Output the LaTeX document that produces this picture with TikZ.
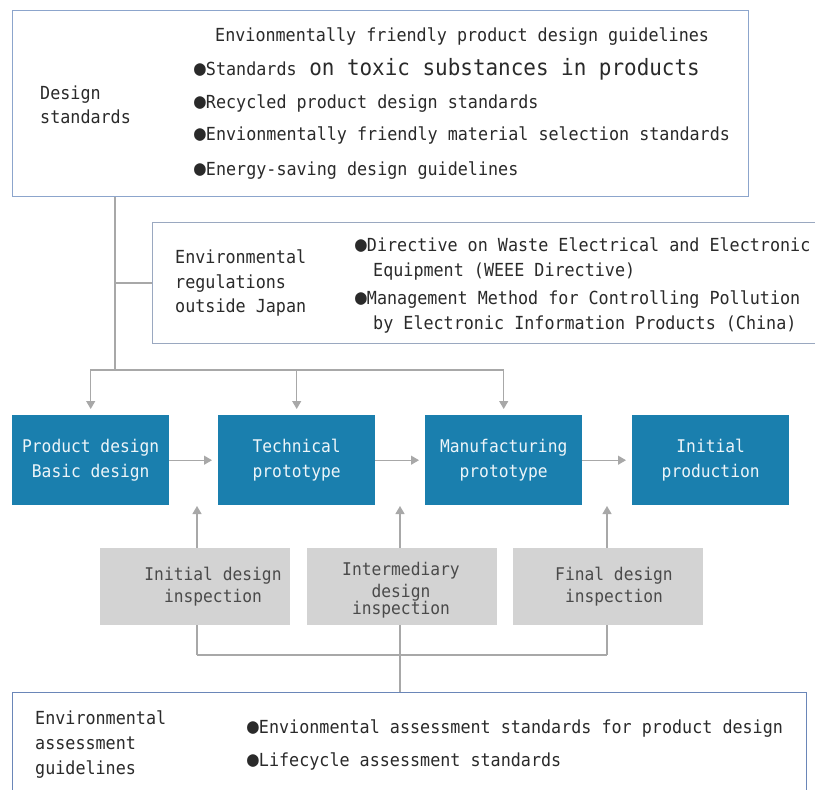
\documentclass[tikz,border=0pt]{standalone}
\usepackage{fontspec}
\setmainfont{DejaVu Sans Mono}
\newfontfamily\gothic[FakeStretch=0.93]{DejaVu Sans Mono}
\usetikzlibrary{arrows.meta,backgrounds}
\definecolor{dsborder}{HTML}{8CA5CC}
\definecolor{erborder}{HTML}{9AA8C0}
\definecolor{eaborder}{HTML}{6A86B8}
\definecolor{stageblue}{HTML}{1A7FAE}
\definecolor{inspgray}{HTML}{D3D3D3}
\definecolor{linegray}{HTML}{A8A8A8}
\definecolor{txt}{HTML}{2A2A2A}
\newcommand{\bul}{{\fontsize{21}{24}\selectfont ●}}
\tikzset{
  frame/.style={draw, line width=1.2pt, fill=white, anchor=north west, inner sep=0pt},
  stagebox/.style={fill=stageblue, anchor=north west, minimum width=157pt, minimum height=90pt, inner sep=0pt},
  inspbox/.style={fill=inspgray, anchor=north west, minimum width=190pt, minimum height=77pt, inner sep=0pt},
  stagetext/.style={text=white!92!stageblue, align=center, font=\gothic\fontsize{17.5}{25}\selectfont},
  insptext/.style={text=txt!85!white, align=center, font=\gothic\fontsize{17.5}{22}\selectfont},
  lbl/.style={text=txt, anchor=base west, inner sep=0pt, font=\gothic\fontsize{18}{25}\selectfont},
  conn/.style={draw=linegray, line width=1.3pt},
  arr/.style={conn, -{Triangle[width=9pt,length=8pt]}, shorten >=6pt}
}
\begin{document}
\begin{tikzpicture}[x=1pt,y=-1pt]
\useasboundingbox (0,0) rectangle (815,790);
% frames
\node[frame, draw=dsborder, minimum width=736pt, minimum height=186pt] (ds) at (12,10) {};
\node[frame, draw=erborder, minimum width=700pt, minimum height=121pt] (er) at (152,222) {};
\node[frame, draw=eaborder, minimum width=794pt, minimum height=120pt] (ea) at (12,692) {};
% stages
\node[stagebox] (b1) at (12,415) {};
\node[stagebox] (b2) at (218,415) {};
\node[stagebox] (b3) at (425,415) {};
\node[stagebox] (b4) at (632,415) {};
\node[stagetext] (b1t) at (b1.center) {Product design\\Basic design};
\node[stagetext] (b2t) at (b2.center) {Technical\\prototype};
\node[stagetext] (b3t) at (b3.center) {Manufacturing\\prototype};
\node[stagetext] (b4t) at (b4.center) {Initial\\production};
% inspections
\node[inspbox] (g1) at (100,548) {};
\node[inspbox] (g2) at (307,548) {};
\node[inspbox] (g3) at (513,548) {};
\node[insptext] (g1t) at (213,587) {Initial design\\inspection};
\node[insptext] (g2t) at (401,590) {Intermediary\\design\\[-5pt]inspection};
\node[insptext] (g3t) at (614,587) {Final design\\inspection};
% coordinates
\coordinate (t1) at (115,370);
\coordinate (a1) at (197,506);
\coordinate (a2) at (400,506);
\coordinate (a3) at (607,506);
\coordinate (u1) at (197,655);
\coordinate (u2) at (400,655);
\coordinate (u3) at (607,655);
\begin{scope}[on background layer]
\draw[conn] (t1 |- ds.south) -- (t1);
\draw[conn] (t1 |- er.west) -- (er.west);
\draw[arr] (t1) -| (b1.north);
\draw[arr] (t1) -| (b3.north);
\draw[arr] (b2.north |- t1) -- (b2.north);
\draw[arr] (b1.east) -- (b2.west);
\draw[arr] (b2.east) -- (b3.west);
\draw[arr] (b3.east) -- (b4.west);
\draw[conn] (u1) -- (u3);
\draw[arr, shorten >=0pt] (u1) -- (a1);
\draw[arr, shorten >=0pt] (u2) -- (a2);
\draw[arr, shorten >=0pt] (u3) -- (a3);
\draw[conn] (u2) -- (u2 |- ea.north);
\end{scope}
% design standards text
\node[lbl] (dsl1) at (40,99) {Design};
\node[lbl] (dsl2) at (40,123) {standards};
\node[lbl] (dst) at (215,41) {Envionmentally friendly product design guidelines};
\node[lbl] (ds1) at (194,75) {\bul Standards{\fontsize{22.5}{25}\selectfont{} on toxic substances in products}};
\node[lbl] (ds2) at (194,108) {\bul Recycled product design standards};
\node[lbl] (ds3) at (194,140) {\bul Envionmentally friendly material selection standards};
\node[lbl] (ds4) at (194,175) {\bul Energy-saving design guidelines};
% regulations text
\node[lbl] (erl1) at (175,263) {Environmental};
\node[lbl] (erl2) at (175,288) {regulations};
\node[lbl] (erl3) at (175,312) {outside Japan};
\node[lbl] (er1) at (355,251) {\bul Directive on Waste Electrical and Electronic};
\node[lbl] (er1b) at (373,276) {Equipment (WEEE Directive)};
\node[lbl] (er2) at (355,304) {\bul Management Method for Controlling Pollution};
\node[lbl] (er2b) at (373,329) {by Electronic Information Products (China)};
% assessment text
\node[lbl] (eal1) at (35,724) {Environmental};
\node[lbl] (eal2) at (35,749) {assessment};
\node[lbl] (eal3) at (35,774) {guidelines};
\node[lbl] (ea1) at (247,733) {\bul Envionmental assessment standards for product design};
\node[lbl] (ea2) at (247,766) {\bul Lifecycle assessment standards};
\end{tikzpicture}
\end{document}
